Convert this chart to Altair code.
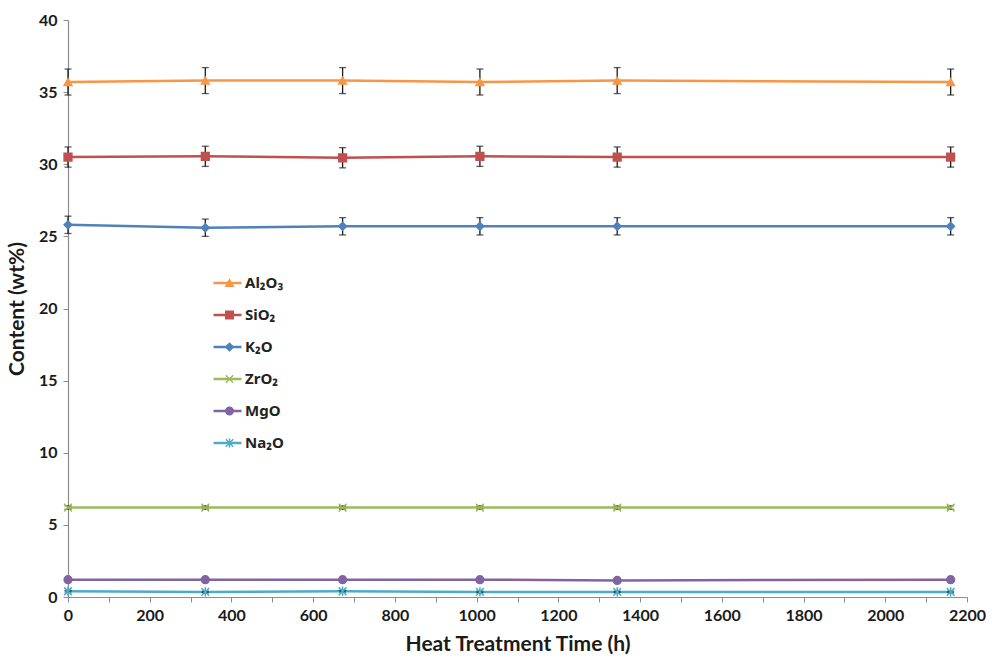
import altair as alt
import pandas as pd

# Sampling times (hours of heat treatment)
hours = [0, 336, 672, 1008, 1344, 2160]

oxides = ["Al₂O₃", "SiO₂", "K₂O", "ZrO₂", "MgO", "Na₂O"]
colors = ["#F79646", "#C0504D", "#4F81BD", "#9BBB59", "#8064A2", "#4BACC6"]
shapes = [
    "triangle-up",
    "square",
    "diamond",
    "M-1,-1L1,1M-1,1L1,-1",
    "circle",
    "M-1,-1L1,1M-1,1L1,-1M0,-1.2L0,1.2",
]

# Oxide content (wt%) at each sampling time
al2o3 = [35.7, 35.8, 35.8, 35.7, 35.8, 35.7]
sio2 = [30.5, 30.55, 30.45, 30.55, 30.5, 30.5]
k2o = [25.8, 25.6, 25.7, 25.7, 25.7, 25.7]
zro2 = [6.2, 6.2, 6.2, 6.2, 6.2, 6.2]
mgo = [1.2, 1.2, 1.2, 1.2, 1.15, 1.2]
na2o = [0.4, 0.35, 0.4, 0.35, 0.35, 0.35]

# Standard deviations (wt%)
al2o3_err = [0.9, 0.9, 0.9, 0.9, 0.9, 0.9]
sio2_err = [0.7, 0.7, 0.7, 0.7, 0.7, 0.7]
k2o_err = [0.6, 0.6, 0.6, 0.6, 0.6, 0.6]
zro2_err = [0.12, 0.12, 0.12, 0.12, 0.12, 0.12]
mgo_err = [0.05, 0.05, 0.05, 0.05, 0.05, 0.05]
na2o_err = [0.05, 0.05, 0.05, 0.05, 0.05, 0.05]

values = [al2o3, sio2, k2o, zro2, mgo, na2o]
errors = [al2o3_err, sio2_err, k2o_err, zro2_err, mgo_err, na2o_err]

rows = []
for name, vals, errs in zip(oxides, values, errors):
    for h, v, e in zip(hours, vals, errs):
        rows.append({"oxide": name, "series": name, "hours": h,
                     "content": v, "lo": v - e, "hi": v + e})
df = pd.DataFrame(rows)

FONT = "Lato"
LEGEND_FONT = "Noto Sans"
x_scale = alt.Scale(domain=[0, 2200], nice=False)
y_scale = alt.Scale(domain=[0, 40], nice=False)

# Every 100 h / 2.5 wt% gets a tick; only the major ones carry a label
x_axis = alt.Axis(values=list(range(0, 2201, 100)), format="d", labelFlush=False,
                  labelExpr="datum.value % 200 == 0 ? datum.label : ''",
                  title="Heat Treatment Time (h)",
                  orient="bottom", tickSize=5, labelPadding=5, titlePadding=10)
y_axis = alt.Axis(values=[2.5 * i for i in range(17)], labelFlush=False,
                  labelExpr="datum.value % 5 == 0 ? datum.label : ''",
                  title="Content (wt%)",
                  orient="left", tickSize=5, labelPadding=6, titlePadding=11)

x_enc = alt.X("hours:Q", scale=x_scale, axis=x_axis)
y_enc = alt.Y("content:Q", scale=y_scale, axis=y_axis)

# Line legend: its scale lists the series in reverse so it stays a separate legend
lines = alt.Chart(df).mark_line(strokeWidth=2.5).encode(
    x=x_enc,
    y=y_enc,
    color=alt.Color(
        "series:N",
        scale=alt.Scale(domain=oxides[::-1], range=colors[::-1]),
        legend=alt.Legend(
            title=None, orient="none", legendX=144, legendY=253, values=oxides,
            symbolType="stroke", symbolSize=784, symbolStrokeWidth=2.5,
            labelFont=LEGEND_FONT, labelFontSize=15, labelFontWeight="bold",
            labelColor="#222", labelOffset=2, rowPadding=12, clipHeight=20,
        ),
    ),
    detail="oxide:N",
)

bars = alt.Chart(df).mark_rule(color="#1a1a1a", strokeWidth=1.3).encode(
    x="hours:Q", y="lo:Q", y2="hi:Q"
)
caps_lo = alt.Chart(df).mark_tick(orient="horizontal", color="#1a1a1a",
                                  thickness=1.3, size=7).encode(x="hours:Q", y="lo:Q")
caps_hi = alt.Chart(df).mark_tick(orient="horizontal", color="#1a1a1a",
                                  thickness=1.3, size=7).encode(x="hours:Q", y="hi:Q")

marker_legend = alt.Legend(
    title=None, orient="none", legendX=154, legendY=253,
    symbolSize=55, symbolStrokeWidth=1.5,
    labelExpr="''", labelFontSize=15, rowPadding=12, clipHeight=20,
)
points = alt.Chart(df).mark_point(filled=True, size=60, strokeWidth=1.5, opacity=1).encode(
    x="hours:Q",
    y="content:Q",
    shape=alt.Shape("oxide:N", scale=alt.Scale(domain=oxides, range=shapes),
                    legend=marker_legend),
    fill=alt.Fill("oxide:N", scale=alt.Scale(domain=oxides, range=colors),
                  legend=marker_legend),
    stroke=alt.Stroke("oxide:N", scale=alt.Scale(domain=oxides, range=colors),
                      legend=marker_legend),
)

chart = alt.layer(lines, bars, caps_lo, caps_hi, points).properties(
    width=899,
    height=577,
    autosize=alt.AutoSizeParams(type="none"),
    padding={"left": 68, "top": 20, "right": 25, "bottom": 62},
    background="white",
).configure_view(
    stroke=None
).configure_axis(
    grid=False,
    domainColor="#8c8c8c",
    domainWidth=1.2,
    tickColor="#8c8c8c",
    tickWidth=1,
    labelFont=FONT,
    labelFontSize=16,
    labelFontWeight="bold",
    labelColor="#1a1a1a",
    titleFont=FONT,
    titleFontSize=21,
    titleFontWeight="bold",
    titleColor="#1a1a1a",
)

chart.save("out.html", embed_options={"renderer": "svg", "actions": False})
